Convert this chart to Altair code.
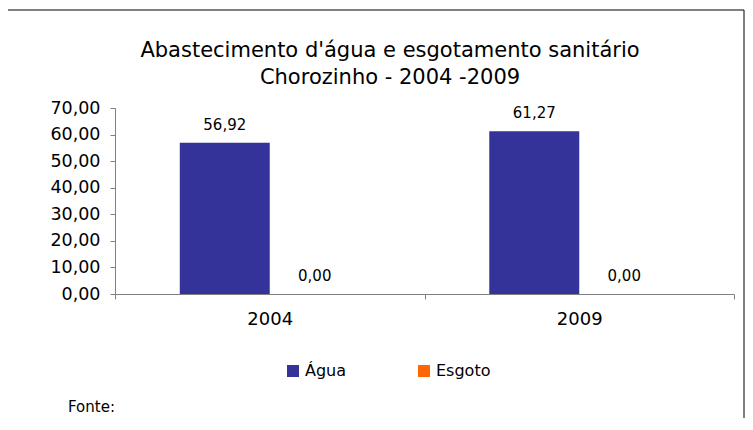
import altair as alt
import pandas as pd

years = ["2004", "2004", "2009", "2009"]
series = ["Água", "Esgoto", "Água", "Esgoto"]
values = [56.92, 0.00, 61.27, 0.00]
y_ticks = [0, 10, 20, 30, 40, 50, 60, 70]
title_lines = ["Abastecimento d'água e esgotamento sanitário", "Chorozinho - 2004 -2009"]

df = pd.DataFrame({"ano": years, "serie": series, "valor": values})

FONT = "DejaVu Sans"
W, H = 619, 186

base = alt.Chart(df).transform_calculate(
    rotulo="replace(format(datum.valor, '.2f'), '.', ',')"
)

x = alt.X("ano:N", title=None,
          scale=alt.Scale(paddingInner=0, paddingOuter=0),
          axis=alt.Axis(labelAngle=0, labelFontSize=18, labelFont=FONT, labelColor="black",
                        tickBand="extent", tickSize=5, tickColor="#808080",
                        domainColor="#808080", labelPadding=11, grid=False))
xo = alt.XOffset("serie:N", scale=alt.Scale(domain=["Água", "Esgoto"], paddingOuter=0.72, paddingInner=0))
y = alt.Y("valor:Q", title=None,
          scale=alt.Scale(domain=[0, 70], nice=False),
          axis=alt.Axis(values=y_ticks, tickCount=8,
                        labelExpr="replace(format(datum.value, '.2f'), '.', ',')",
                        labelFontSize=17.5, labelFont=FONT, labelColor="black",
                        labelOverlap=False,
                        tickSize=5, tickColor="#808080", domainColor="#808080",
                        grid=False, labelPadding=10))

bars = base.mark_bar().encode(
    x=x, xOffset=xo, y=y,
    color=alt.Color("serie:N", title=None,
                    scale=alt.Scale(domain=["Água", "Esgoto"], range=["#333399", "#FF6600"]),
                    legend=alt.Legend(orient="none", legendX=170, legendY=255, direction="horizontal",
                                      symbolType="square", symbolSize=144, symbolStrokeWidth=0,
                                      labelFontSize=16, labelFont=FONT, labelColor="black",
                                      columnPadding=69, labelOffset=4)),
)

labels = base.mark_text(fontSize=15, font=FONT, color="black", baseline="middle", dy=-18).encode(
    x=x, xOffset=xo, y=y, text="rotulo:N",
)

t1 = alt.Chart(pd.DataFrame({"t": [title_lines[0]]})).mark_text(
    fontSize=21, font=FONT, color="black", align="center", baseline="alphabetic"
).encode(x=alt.value(275), y=alt.value(-51), text="t:N")
t2 = alt.Chart(pd.DataFrame({"t": [title_lines[1]]})).mark_text(
    fontSize=21, font=FONT, color="black", align="center", baseline="alphabetic"
).encode(x=alt.value(275), y=alt.value(-24), text="t:N")

fonte = alt.Chart(pd.DataFrame({"t": ["Fonte:"]})).mark_text(
    fontSize=15, font=FONT, color="black", align="left", baseline="middle"
).encode(x=alt.value(-47), y=alt.value(298.5), text="t:N")

border = alt.Chart(pd.DataFrame({"t": [0]})).mark_rect(
    fill=None, stroke="black", strokeWidth=1
).encode(x=alt.value(-109), x2=alt.value(629), y=alt.value(-98), y2=alt.value(400))

chart = alt.layer(border, bars, labels, t1, t2, fonte).properties(
    width=W, height=H,
    padding={"left": 107, "top": 100, "right": 11, "bottom": 124},
    autosize=alt.AutoSizeParams(type="none"),
).configure(background="white").configure_view(strokeOpacity=0, strokeWidth=0)

chart.save("out.html", embed_options={"renderer": "svg", "actions": False})
